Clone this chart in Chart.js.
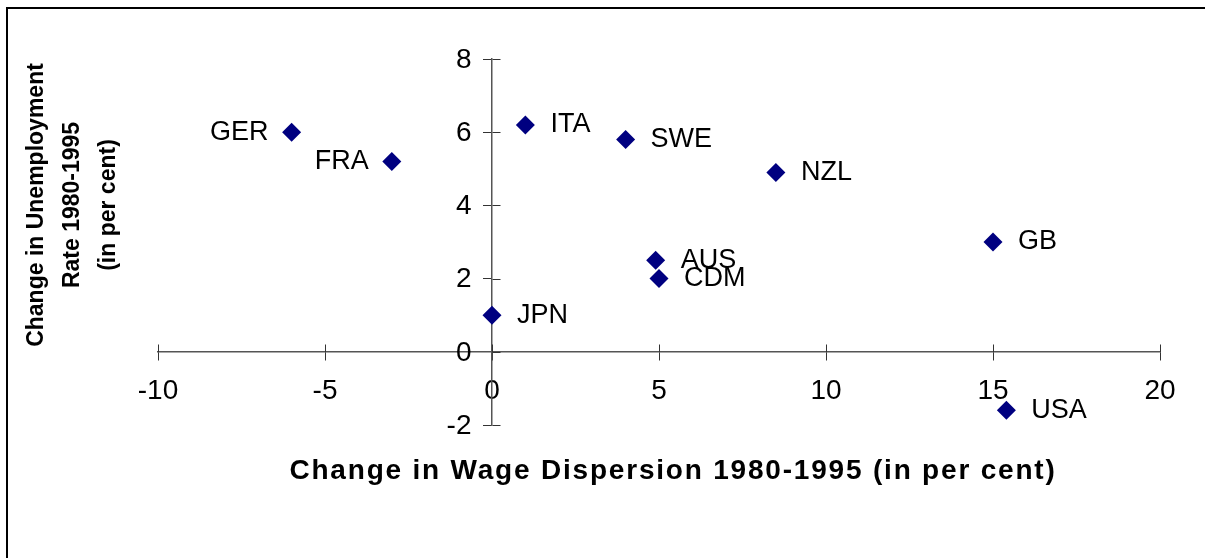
<!DOCTYPE html>
<html>
<head>
<meta charset="utf-8">
<title>Wage dispersion vs unemployment</title>
<script src="https://cdn.jsdelivr.net/npm/chart.js@4/dist/chart.umd.min.js"></script>
<style>
	html, body { margin: 0; padding: 0; background: #fff; overflow: hidden; }
	canvas { display: block; }
</style>
</head>
<body>
<canvas id="grafico" width="1205" height="558"></canvas>
<script>
"use strict";

// data
const paesi = ['GER', 'FRA', 'ITA', 'SWE', 'NZL', 'GB', 'AUS', 'CDM', 'JPN', 'USA'];
const dispersione = [-6, -3, 1, 4, 8.5, 15, 4.9, 5, 0, 15.4];
const disoccupazione = [6, 5.2, 6.2, 5.8, 4.9, 3, 2.5, 2, 1, -1.6];
const ticksX = [-10, -5, 0, 5, 10, 15, 20];
const ticksY = [-2, 0, 2, 4, 6, 8];

const titoloX = 'Change in Wage Dispersion 1980-1995 (in per cent)';
const titoloY = ['Change in Unemployment', 'Rate 1980-1995', '(in per cent)'];

const FONT = "'Liberation Sans', Arial, sans-serif";

let punti = [];
for (let i = 0; i < paesi.length; i++) {
	punti.push({ x: dispersione[i], y: disoccupazione[i] });
}

// cornice esterna (tagliata a destra e in basso come nell'originale)
const cornice = {
	id: 'cornice',
	beforeDraw(chart) {
		const ctx = chart.ctx;
		ctx.save();
		ctx.fillStyle = '#fff';
		ctx.fillRect(0, 0, chart.width, chart.height);
		ctx.strokeStyle = '#000';
		ctx.lineWidth = 2;
		ctx.strokeRect(7, 8, chart.width + 20, chart.height + 20);
		ctx.restore();
	}
};

// meta' interna dei tick (Excel li disegna a croce) + etichette asse y
const tickCroce = {
	id: 'tickCroce',
	afterDraw(chart) {
		const ctx = chart.ctx;
		const sx = chart.scales.x;
		const sy = chart.scales.y;
		const x0 = Math.round(sx.getPixelForValue(0)) + 0.5;
		const y0 = Math.round(sy.getPixelForValue(0)) + 0.5;
		ctx.save();
		ctx.strokeStyle = '#333';
		ctx.lineWidth = 1;
		ctx.beginPath();
		for (const t of sx.ticks) {
			const px = Math.round(sx.getPixelForValue(t.value)) + 0.5;
			ctx.moveTo(px, y0);
			ctx.lineTo(px, y0 - 8);
		}
		for (const t of sy.ticks) {
			const py = Math.round(sy.getPixelForValue(t.value)) + 0.5;
			ctx.moveTo(x0, py);
			ctx.lineTo(x0 + 8, py);
		}
		ctx.stroke();

		// con position {x: 0} Chart.js ignora il padding, quindi le scrivo qui
		ctx.fillStyle = '#000';
		ctx.font = '28px ' + FONT;
		ctx.textAlign = 'right';
		ctx.textBaseline = 'middle';
		for (const t of sy.ticks) {
			ctx.fillText(String(t.value), x0 - 21, sy.getPixelForValue(t.value) + 1);
		}
		ctx.restore();
	}
};

// etichette dei paesi vicino ai punti
const etichette = {
	id: 'etichette',
	afterDatasetsDraw(chart) {
		const ctx = chart.ctx;
		const meta = chart.getDatasetMeta(0);
		const aSinistra = ['GER', 'FRA'];
		ctx.save();
		ctx.font = '27px ' + FONT;
		ctx.fillStyle = '#000';
		ctx.textBaseline = 'middle';
		meta.data.forEach(function (p, i) {
			if (aSinistra.includes(paesi[i])) {
				ctx.textAlign = 'right';
				ctx.fillText(paesi[i], p.x - 23, p.y);
			} else {
				ctx.textAlign = 'left';
				ctx.fillText(paesi[i], p.x + 25, p.y);
			}
		});
		ctx.restore();
	}
};

// titoli degli assi
const titoliAssi = {
	id: 'titoliAssi',
	afterDraw(chart) {
		const ctx = chart.ctx;
		ctx.save();
		ctx.fillStyle = '#000';
		ctx.textAlign = 'center';
		ctx.textBaseline = 'middle';
		ctx.font = 'bold 28px ' + FONT;
		ctx.letterSpacing = '1.8px';
		ctx.fillText(titoloX, 673, 471);
		ctx.letterSpacing = '0px';
		ctx.font = 'bold 23px ' + FONT;
		ctx.translate(37, 205);
		ctx.rotate(-Math.PI / 2);
		titoloY.forEach(function (riga, i) {
			ctx.fillText(riga, 0, i * 36);
		});
		ctx.restore();
	}
};

const canvas = document.getElementById('grafico');
const chart = new Chart(canvas, {
	type: 'scatter',
	data: {
		datasets: [{
			label: 'paesi',
			data: punti,
			pointStyle: 'rectRot',
			pointRadius: 9.5,
			pointHoverRadius: 9.5,
			backgroundColor: '#000080',
			borderColor: '#000080',
			borderWidth: 0
		}]
	},
	options: {
		responsive: false,
		animation: false,
		events: [],
		layout: {
			padding: { left: 158, right: 45, top: 59, bottom: 133 }
		},
		plugins: {
			legend: { display: false },
			tooltip: { enabled: false }
		},
		scales: {
			x: {
				type: 'linear',
				position: { y: 0 },
				min: -10,
				max: 20,
				afterBuildTicks(scale) {
					scale.ticks = ticksX.map(v => ({ value: v }));
				},
				grid: {
					display: true,
					drawOnChartArea: false,
					drawTicks: true,
					tickLength: 8,
					tickColor: '#333'
				},
				border: { display: true, color: '#555', width: 1.5 },
				ticks: {
					color: '#000',
					padding: 15,
					font: { family: FONT, size: 28 }
				}
			},
			y: {
				type: 'linear',
				position: { x: 0 },
				min: -2,
				max: 8,
				afterBuildTicks(scale) {
					scale.ticks = ticksY.map(v => ({ value: v }));
				},
				grid: {
					display: true,
					drawOnChartArea: false,
					drawTicks: true,
					tickLength: 8,
					tickColor: '#333'
				},
				border: { display: true, color: '#555', width: 1.5 },
				ticks: {
					display: false
				}
			}
		}
	},
	plugins: [cornice, tickCroce, etichette, titoliAssi]
});
</script>
</body>
</html>
